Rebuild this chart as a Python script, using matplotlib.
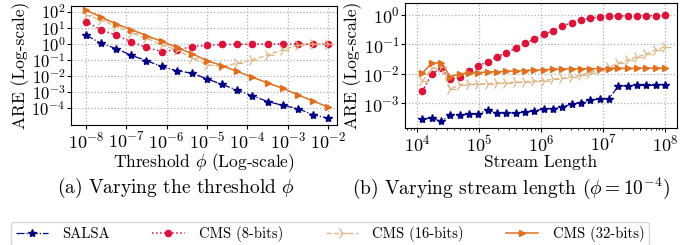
"""
Relative error (ARE) of SALSA vs. CMS counter widths.
(a) varying the threshold phi, (b) varying the stream length.
"""

import matplotlib
matplotlib.use("Agg")
import matplotlib.pyplot as plt
from matplotlib.lines import Line2D

plt.rcParams.update({
    "font.family": "serif",
    "font.serif": ["cmr10", "DejaVu Serif"],
    "mathtext.fontset": "cm",
    "axes.formatter.use_mathtext": True,
    "axes.unicode_minus": False,
})

# ── Data ──────────────────────────────────────────────────────────────────────

# (a) threshold phi
PHI = [1e-8, 2.37e-8, 5.62e-8, 1.33e-7, 3.16e-7, 7.5e-7, 1.78e-6, 4.22e-6, 1e-5,
       2.37e-5, 5.62e-5, 1.33e-4, 3.16e-4, 7.5e-4, 1.78e-3, 4.22e-3, 1e-2]
A_SALSA = [3.5, 1.07, 0.5, 0.19, 0.09, 0.039, 0.021, 0.015, 0.0066,
           0.003, 0.0013, 5.9e-4, 2.6e-4, 1.5e-4, 9.5e-5, 3.9e-5, 2.4e-5]
A_CMS8 = [24, 7.3, 3.4, 1.3, 0.59, 0.33, 0.42, 0.65, 0.81,
          0.9, 0.92, 0.94, 0.95, 0.95, 0.95, 0.95, 0.95]
A_CMS16 = [62, 30, 12, 4.6, 2.2, 0.85, 0.42, 0.13, 0.049,
           0.039, 0.062, 0.1, 0.2, 0.42, 0.85, 0.95, 0.95]
A_CMS32 = [126, 45, 17, 7.6, 3.2, 1.4, 0.61, 0.24, 0.091,
           0.043, 0.019, 0.0084, 0.0037, 0.0017, 6.7e-4, 2.8e-4, 1.15e-4]

# (b) stream length
LENGTH = [1.22e4, 1.73e4, 2.44e4, 3.45e4, 4.88e4, 6.91e4, 9.77e4, 1.38e5, 1.95e5,
          2.76e5, 3.91e5, 5.52e5, 7.81e5, 1.1e6, 1.56e6, 2.21e6, 3.13e6, 4.42e6,
          6.25e6, 8.84e6, 1.25e7, 1.77e7, 2.5e7, 3.54e7, 5e7, 7.07e7, 1e8]
B_SALSA = [2.9e-4, 3.1e-4, 2.4e-4, 4.0e-4, 4.0e-4, 4.2e-4, 4.3e-4, 5.9e-4, 4.6e-4,
           4.6e-4, 4.6e-4, 5.0e-4, 5.5e-4, 6.3e-4, 6.4e-4, 7.3e-4, 9.5e-4, 1.05e-3,
           1.3e-3, 1.37e-3, 1.44e-3, 3.9e-3, 3.9e-3, 4.0e-3, 4.0e-3, 4.1e-3, 4.1e-3]
B_CMS8 = [2.5e-3, 1.0e-2, 1.55e-2, 6.5e-3, 8.0e-3, 1.25e-2, 1.85e-2, 2.6e-2, 3.8e-2,
          5.2e-2, 7.4e-2, 0.11, 0.15, 0.22, 0.29, 0.42, 0.55, 0.68,
          0.77, 0.88, 0.92, 0.92, 0.95, 0.95, 0.95, 0.95, 0.97]
B_CMS16 = [5.5e-3, 1.54e-2, 1.75e-2, 3.0e-3, 4.3e-3, 4.4e-3, 4.5e-3, 4.6e-3, 4.8e-3,
           5.0e-3, 5.2e-3, 5.4e-3, 5.6e-3, 5.9e-3, 6.5e-3, 7.1e-3, 8.0e-3, 9.1e-3,
           0.011, 0.0135, 0.0166, 0.023, 0.0295, 0.038, 0.047, 0.065, 0.083]
B_CMS32 = [0.0104, 0.023, 0.024, 0.008, 0.01, 0.0104, 0.011, 0.0116, 0.0116,
           0.0122, 0.0125, 0.0129, 0.0135, 0.0135, 0.0145, 0.0145, 0.0148, 0.0148,
           0.015, 0.015, 0.015, 0.0152, 0.0152, 0.0155, 0.0155, 0.0155, 0.0155]

SERIES = ["SALSA", "CMS (8-bits)", "CMS (16-bits)", "CMS (32-bits)"]
STYLES = {
    "SALSA":         dict(color="#000080", ls="-.", marker="*", ms=6, lw=0.9),
    "CMS (8-bits)":  dict(color="#DC143C", ls=":", marker="o", ms=4.5, lw=1.1),
    "CMS (16-bits)": dict(color="#DEB887", ls="--", marker="4", ms=9, lw=1.0, mew=0.9),
    "CMS (32-bits)": dict(color="#E07020", ls="-", marker=">", ms=5, lw=1.1),
}

# ── Figure ────────────────────────────────────────────────────────────────────

fig = plt.figure(figsize=(6.95, 2.45), dpi=100)
ax1 = fig.add_axes([0.102, 0.490, 0.383, 0.486])
ax2 = fig.add_axes([0.583, 0.478, 0.391, 0.510])

for name, ya in zip(SERIES, [A_SALSA, A_CMS8, A_CMS16, A_CMS32]):
    ax1.plot(PHI, ya, **STYLES[name])
for name, yb in zip(SERIES, [B_SALSA, B_CMS8, B_CMS16, B_CMS32]):
    ax2.plot(LENGTH, yb, **STYLES[name])

for ax in (ax1, ax2):
    ax.set_xscale("log")
    ax.set_yscale("log")
    ax.grid(True, which="major", ls=":", color="#b0b0b0", lw=0.9)
    ax.tick_params(labelsize=13, length=3, pad=1)
    ax.tick_params(which="minor", length=1.5)
    ax.set_ylabel("ARE (Log-scale)", fontsize=12.5, labelpad=1)

# decades sit close together on the left panel, so its y labels are a bit smaller
ax1.tick_params(axis="y", labelsize=12)

ax1.set_xlim(10 ** -8.37, 10 ** -1.78)
ax1.set_ylim(10 ** -5.04, 10 ** 2.35)
ax1.set_xticks([1e-8, 1e-7, 1e-6, 1e-5, 1e-4, 1e-3, 1e-2])
ax1.set_yticks([1e2, 1e1, 1e0, 1e-1, 1e-2, 1e-3, 1e-4])
ax1.set_xlabel(r"Threshold $\phi$ (Log-scale)", fontsize=12.5, labelpad=0)

ax2.set_xlim(10 ** 3.81, 10 ** 8.19)
ax2.set_ylim(10 ** -3.84, 10 ** 0.41)
ax2.set_xticks([1e4, 1e5, 1e6, 1e7, 1e8])
ax2.set_yticks([1e0, 1e-1, 1e-2, 1e-3])
ax2.set_xlabel("Stream Length", fontsize=12.5, labelpad=0)

fig.text(0.253, 0.232, r"(a) Varying the threshold $\phi$", ha="center", va="center", fontsize=14)
fig.text(0.735, 0.232, r"(b) Varying stream length ($\phi = 10^{-4}$)", ha="center", va="center", fontsize=14)

handles = [Line2D([], [], **STYLES[name]) for name in SERIES]
fig.legend(handles, SERIES, loc="center", bbox_to_anchor=(0.475, 0.045), ncol=4,
           fontsize=10.5, frameon=True, handlelength=2.2, columnspacing=2.9,
           borderpad=0.3, handletextpad=1.0)

fig.savefig("out.png", dpi=100)
